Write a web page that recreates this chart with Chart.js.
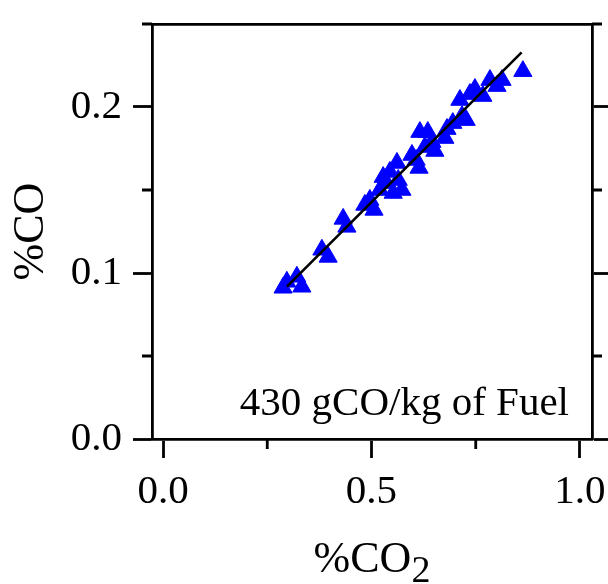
<!DOCTYPE html>
<html><head><meta charset="utf-8">
<script src="https://cdn.jsdelivr.net/npm/chart.js@4"></script>
<style>html,body{margin:0;padding:0;background:#fff;}#wrap{width:608px;height:584px;}</style>
</head><body><div id="wrap"><canvas id="c" width="608" height="584"></canvas></div>
<script>
// ---- data ----
const co2 = [0.863,0.813,0.784,0.801,0.748,0.736,0.767,0.712,0.717,0.727,0.695,0.681,0.676,0.616,0.635,0.645,0.628,0.652,0.597,0.607,0.614,0.561,0.544,0.528,0.564,0.573,0.552,0.496,0.484,0.506,0.432,0.441,0.381,0.396,0.297,0.321,0.288,0.333,0.520,0.535];
const co  = [0.2216,0.2162,0.2162,0.2126,0.2108,0.2078,0.2066,0.2042,0.1945,0.1921,0.1903,0.1867,0.1813,0.1849,0.1849,0.1789,0.1759,0.1735,0.1711,0.1681,0.1633,0.1663,0.1609,0.1578,0.1560,0.1500,0.1482,0.1440,0.1410,0.1380,0.1326,0.1278,0.1140,0.1097,0.0947,0.0977,0.0911,0.0917,0.1500,0.1542];
const fitX = [0.297, 0.860];
const fitY = [0.0918, 0.2329];
const xTicks  = [0, 0.25, 0.5, 0.75, 1.0];
const xLabels = ['0.0', '', '0.5', '', '1.0'];
const yTicks  = [0, 0.05, 0.1, 0.15, 0.2, 0.25];
const yLabels = ['0.0', '', '0.1', '', '0.2', ''];
const yTitle = '%CO';
const xTitle = '%CO';
const xTitleSub = '2';
const note = '430 gCO/kg of Fuel';

// ---- styling ----
const FONT = "'Liberation Serif', 'Times New Roman', serif";
const LW = 2.8;
const MAJOR = 19, MINOR = 10;

const tickColorX = c => (xLabels[c.index] ? '#000' : 'rgba(0,0,0,0)');
const tickColorY = c => (yLabels[c.index] ? '#000' : 'rgba(0,0,0,0)');
const noPad = s => { s.paddingLeft = 0; s.paddingRight = 0; s.paddingTop = 0; s.paddingBottom = 0; };

const extras = {
  id: 'extras',
  afterDraw(chart) {
    const ctx = chart.ctx, a = chart.chartArea;
    const sx = chart.scales.x, sy = chart.scales.y;
    ctx.save();
    ctx.strokeStyle = '#000';
    ctx.lineWidth = LW;
    ctx.beginPath();
    xTicks.forEach((v, i) => {
      if (xLabels[i]) return;
      const px = sx.getPixelForValue(v);
      ctx.moveTo(px, a.bottom); ctx.lineTo(px, a.bottom + MINOR);
    });
    yTicks.forEach((v, i) => {
      if (yLabels[i]) return;
      const py = sy.getPixelForValue(v);
      ctx.moveTo(a.left - MINOR, py); ctx.lineTo(a.left, py);
      ctx.moveTo(a.right, py); ctx.lineTo(a.right + MINOR, py);
    });
    ctx.stroke();

    // annotation
    ctx.fillStyle = '#000';
    ctx.font = '41px ' + FONT;
    ctx.textAlign = 'right';
    ctx.textBaseline = 'alphabetic';
    ctx.fillText(note, a.right - 23, a.bottom - 24);

    // x-axis title with subscript
    ctx.font = '44px ' + FONT;
    const w1 = ctx.measureText(xTitle).width;
    ctx.font = '38px ' + FONT;
    const w2 = ctx.measureText(xTitleSub).width;
    const cx = (a.left + a.right) / 2;
    const x0 = cx - (w1 + w2) / 2;
    ctx.textAlign = 'left';
    ctx.font = '44px ' + FONT;
    ctx.fillText(xTitle, x0, 572);
    ctx.font = '38px ' + FONT;
    ctx.fillText(xTitleSub, x0 + w1, 582);
    ctx.restore();
  }
};

new Chart(document.getElementById('c'), {
  type: 'scatter',
  data: {
    datasets: [
      {
        data: fitX.map((x, i) => ({x: x, y: fitY[i]})),
        showLine: true, borderColor: '#000', borderWidth: 2.6,
        pointRadius: 0, fill: false, tension: 0
      },
      {
        data: co2.map((x, i) => ({x: x, y: co[i]})),
        pointStyle: 'triangle', pointRadius: 10.5, pointHoverRadius: 10.5,
        backgroundColor: '#0000ff', borderColor: '#0000ff', borderWidth: 1
      }
    ]
  },
  options: {
    responsive: false,
    animation: false,
    events: [],
    layout: {padding: 0},
    plugins: {legend: {display: false}, tooltip: {enabled: false}},
    scales: {
      x: {
        type: 'linear', position: 'bottom', min: -0.0264, max: 1.0288,
        afterBuildTicks: s => { s.ticks = xTicks.map(v => ({value: v})); },
        afterFit: s => { s.height = 145; noPad(s); },
        ticks: {autoSkip: false, maxRotation: 0, padding: 10, color: '#000',
                font: {family: FONT, size: 41},
                callback: (v, i) => xLabels[i]},
        grid: {drawOnChartArea: false, drawTicks: true, tickLength: MAJOR, tickWidth: LW, tickColor: tickColorX},
        border: {display: true, color: '#000', width: LW},
        title: {display: false}
      },
      x2: {
        type: 'linear', position: 'top', min: -0.0264, max: 1.0288,
        afterFit: s => { s.height = 24; noPad(s); },
        ticks: {display: false},
        grid: {display: false, drawTicks: false},
        border: {display: true, color: '#000', width: LW}
      },
      y: {
        type: 'linear', position: 'left', min: 0, max: 0.25,
        afterBuildTicks: s => { s.ticks = yTicks.map(v => ({value: v})); },
        afterFit: s => { s.width = 152; noPad(s); },
        ticks: {autoSkip: false, padding: 11, color: '#000',
                font: {family: FONT, size: 41},
                callback: (v, i) => yLabels[i]},
        grid: {drawOnChartArea: false, drawTicks: true, tickLength: MAJOR, tickWidth: LW, tickColor: tickColorY},
        border: {display: true, color: '#000', width: LW},
        title: {display: true, text: yTitle, color: '#000', padding: {top: 5, bottom: 0},
                font: {family: FONT, size: 44}}
      },
      y2: {
        type: 'linear', position: 'right', min: 0, max: 0.25,
        afterBuildTicks: s => { s.ticks = yTicks.map(v => ({value: v})); },
        afterFit: s => { s.width = 16; noPad(s); },
        ticks: {display: false},
        grid: {drawOnChartArea: false, drawTicks: true, tickLength: MAJOR, tickWidth: LW, tickColor: tickColorY},
        border: {display: true, color: '#000', width: LW}
      }
    }
  },
  plugins: [extras]
});
</script>
</body></html>
